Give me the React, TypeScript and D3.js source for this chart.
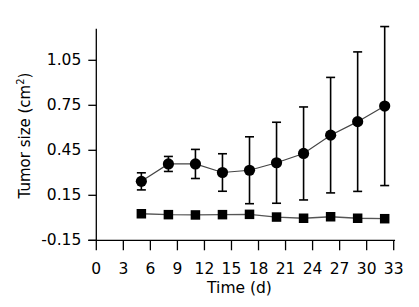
import React from "react";
import * as d3 from "d3";

const days = [5, 8, 11, 14, 17, 20, 23, 26, 29, 32];
const treatedMean = [0.243, 0.359, 0.359, 0.302, 0.317, 0.367, 0.429, 0.551, 0.641, 0.745];
const treatedErr = [0.057, 0.05, 0.097, 0.125, 0.223, 0.27, 0.31, 0.385, 0.465, 0.53];
const controlMean = [0.027, 0.021, 0.019, 0.021, 0.023, 0.005, -0.003, 0.007, -0.003, -0.006];
const xTicks = [0, 3, 6, 9, 12, 15, 18, 21, 24, 27, 30, 33];
const yTicks = [-0.15, 0.15, 0.45, 0.75, 1.05];

const W = 419;
const H = 307;
const FONT = "'DejaVu Sans', Verdana, sans-serif";

export default function App() {
  const x = d3.scaleLinear().domain([0, 33]).range([96.3, 393.7]);
  const y = d3.scaleLinear().domain([-0.15, 1.05]).range([240.3, 60.3]);
  const x0 = x(0);
  const yBase = y(-0.15);
  const yTop = y(1.26);
  const xEnd = x(33.15);

  const line = d3
    .line<number>()
    .x((_, i) => x(days[i]))
    .y((d) => y(d));

  const cap = 4.5;
  const sq = 9.5;
  const r = 5.6;

  return (
    <svg
      width={W}
      height={H}
      style={{ position: "absolute", left: 0, top: 0, background: "#fff" }}
      fontFamily={FONT}
    >
      <rect width={W} height={H} fill="#fff" />
      {/* axes */}
      <line x1={x0} x2={x0} y1={yTop} y2={yBase} stroke="#000" strokeWidth={1.3} />
      <line x1={x0 - 8} x2={xEnd} y1={yBase} y2={yBase} stroke="#000" strokeWidth={1.3} />
      {yTicks.map((t) => (
        <g key={"y" + t}>
          <line x1={x0 - 8} x2={x0} y1={y(t)} y2={y(t)} stroke="#000" strokeWidth={1.3} />
          <text
            x={x0 - 15}
            y={y(t)}
            textAnchor="end"
            dominantBaseline="central"
            fontSize={15.5}
            fill="#000"
          >
            {t.toFixed(2)}
          </text>
        </g>
      ))}
      {xTicks.map((t) => (
        <g key={"x" + t}>
          <line x1={x(t)} x2={x(t)} y1={yBase} y2={yBase + 10} stroke="#000" strokeWidth={1.3} />
          <text x={x(t)} y={274} textAnchor="middle" fontSize={15.5} fill="#000">
            {t}
          </text>
        </g>
      ))}
      <text x={239.5} y={292.5} textAnchor="middle" fontSize={15.5} fill="#000">
        Time (d)
      </text>
      <text
        transform={`translate(30,135.5) rotate(-90)`}
        textAnchor="middle"
        fontSize={15}
        fill="#000"
      >
        Tumor size (cm
        <tspan fontSize={10} dy={-6}>
          2
        </tspan>
        <tspan dy={6}>)</tspan>
      </text>

      {/* control series */}
      <path d={line(controlMean) || ""} fill="none" stroke="#555" strokeWidth={1.3} />
      {controlMean.map((v, i) => (
        <rect
          key={"s" + i}
          x={x(days[i]) - sq / 2}
          y={y(v) - sq / 2}
          width={sq}
          height={sq}
          fill="#000"
        />
      ))}

      {/* treated series */}
      <path d={line(treatedMean) || ""} fill="none" stroke="#444" strokeWidth={1.2} />
      {treatedMean.map((v, i) => {
        const cx = x(days[i]);
        const hi = y(v + treatedErr[i]);
        const lo = y(v - treatedErr[i]);
        return (
          <g key={"c" + i} stroke="#000" strokeWidth={1.6}>
            <line x1={cx} x2={cx} y1={hi} y2={lo} />
            <line x1={cx - cap} x2={cx + cap} y1={hi} y2={hi} />
            <line x1={cx - cap} x2={cx + cap} y1={lo} y2={lo} />
          </g>
        );
      })}
      {treatedMean.map((v, i) => (
        <circle key={"p" + i} cx={x(days[i])} cy={y(v)} r={r} fill="#000" />
      ))}
    </svg>
  );
}
